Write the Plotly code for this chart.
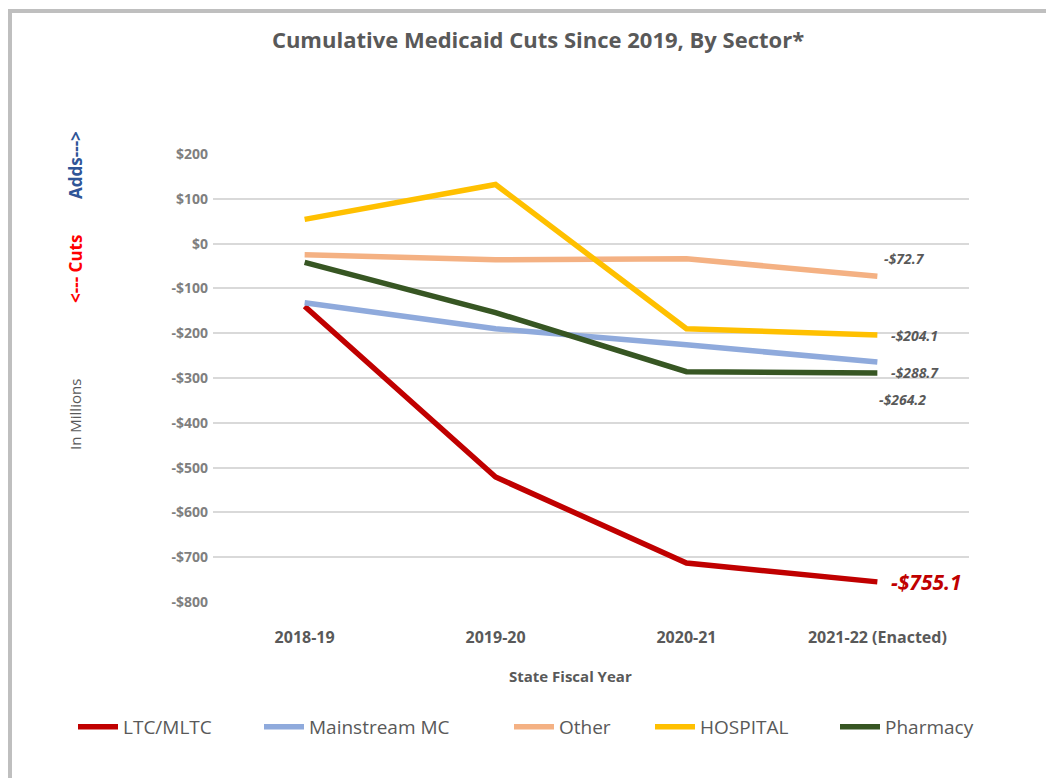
import plotly.graph_objects as go

years = ["2018-19", "2019-20", "2020-21", "2021-22 (Enacted)"]
ltc = [-140, -521, -713, -755.1]
mainstream = [-132, -190, -226, -264.2]
other = [-25, -36, -34, -72.7]
hospital = [54, 132, -190, -204.1]
pharmacy = [-42, -154, -286, -288.7]

series = [
    ("LTC/MLTC", ltc, "#C00000"),
    ("Mainstream MC", mainstream, "#8FAADC"),
    ("Other", other, "#F4B183"),
    ("HOSPITAL", hospital, "#FFC000"),
    ("Pharmacy", pharmacy, "#375623"),
]
legend_starts = [79, 265, 515, 656, 841]  # page x of each legend entry

yticks = list(range(-800, 201, 100))
yticklabels = [("-$%d" % -v) if v < 0 else ("$%d" % v) for v in yticks]

FONT = "Open Sans"
GRAY = "#595959"

OFF = 8  # page body margin
W, H = 1046, 770
L, R, T, B = 205, 85, 146, 176
pw, ph = W - L - R, H - T - B

def px(xp):
    return (xp - OFF - L) / pw

def py(yp):
    return (H - B - (yp - OFF)) / ph

fig = go.Figure()
legend_layouts = {}
for i, (name, vals, col) in enumerate(series):
    lname = "legend" if i == 0 else "legend%d" % (i + 1)
    fig.add_trace(go.Scatter(x=years, y=vals, name=name, mode="lines",
                             line=dict(color=col, width=5.5), legend=lname))
    legend_layouts[lname] = dict(orientation="h", x=px(legend_starts[i] - 6), xanchor="left",
                                 y=py(727), yanchor="middle",
                                 font=dict(size=19, color=GRAY, family=FONT),
                                 itemwidth=40, bgcolor="rgba(0,0,0,0)")

fig.update_layout(
    width=W, height=H,
    margin=dict(l=L, r=R, t=T, b=B),
    paper_bgcolor="white", plot_bgcolor="white",
    font=dict(family=FONT, color=GRAY),
    title=dict(text="<b>Cumulative Medicaid Cuts Since 2019, By Sector*</b>",
               x=px(538), xref="paper", xanchor="center", y=1 - (40 - OFF) / H, yanchor="middle",
               font=dict(size=22, color=GRAY, family=FONT)),
    showlegend=True,
    **legend_layouts,
)

fig.update_xaxes(range=[-0.48, 3.48], showgrid=False, showline=False, zeroline=False,
                 ticks="", tickfont=dict(size=16, color=GRAY, family=FONT),
                 ticklabelstandoff=24,
                 tickvals=years, ticktext=["<b>%s</b>" % y for y in years])
fig.update_yaxes(range=[-800, 200], tickvals=yticks,
                 ticktext=["<b>%s</b>" % t for t in yticklabels],
                 tickfont=dict(size=14, color="#7F7F7F", family=FONT),
                 showgrid=True, gridcolor="#D9D9D9", gridwidth=1.5,
                 zeroline=False, showline=False, ticks="", ticklabelstandoff=4)

# x axis title
fig.add_annotation(xref="paper", yref="paper", x=px(570), y=py(676), text="<b>State Fiscal Year</b>",
                   showarrow=False, xanchor="center", yanchor="middle",
                   font=dict(size=15, color=GRAY, family=FONT))

# end labels
labels = [
    (other[-1], "<b><i>-$72.7</i></b>", 5, 18, 14, GRAY),
    (hospital[-1], "<b><i>-$204.1</i></b>", 12, 0, 14, GRAY),
    (pharmacy[-1], "<b><i>-$288.7</i></b>", 12, 0, 14, GRAY),
    (mainstream[-1], "<b><i>-$264.2</i></b>", 0, -38, 14, GRAY),
    (ltc[-1], "<b><i>-$755.1</i></b>", 12, 0, 21, "#C00000"),
]
for val, txt, xs, ys, fs, col in labels:
    fig.add_annotation(x=years[-1], y=val, text=txt, showarrow=False, xanchor="left",
                       yanchor="middle", xshift=xs, yshift=ys,
                       font=dict(size=fs, color=col, family=FONT))

# side annotations
side = [
    ("<b>Adds---></b>", 165, "#2F5597", 17),
    ("<b><--- Cuts</b>", 269, "#FF0000", 17),
    ("In Millions", 415, GRAY, 15),
]
for txt, yp, col, fs in side:
    fig.add_annotation(xref="paper", yref="paper", x=px(75), y=py(yp), text=txt,
                       textangle=-90, showarrow=False, xanchor="center", yanchor="middle",
                       font=dict(size=fs, color=col, family=FONT))

# frame
fig.add_shape(type="line", xref="paper", yref="paper", x0=px(10), x1=px(10), y0=py(10), y1=py(790),
              line=dict(color="#BFBFBF", width=4))
fig.add_shape(type="line", xref="paper", yref="paper", x0=px(8), x1=px(1060), y0=py(11), y1=py(11),
              line=dict(color="#BFBFBF", width=4))

fig.write_html("out.html")
